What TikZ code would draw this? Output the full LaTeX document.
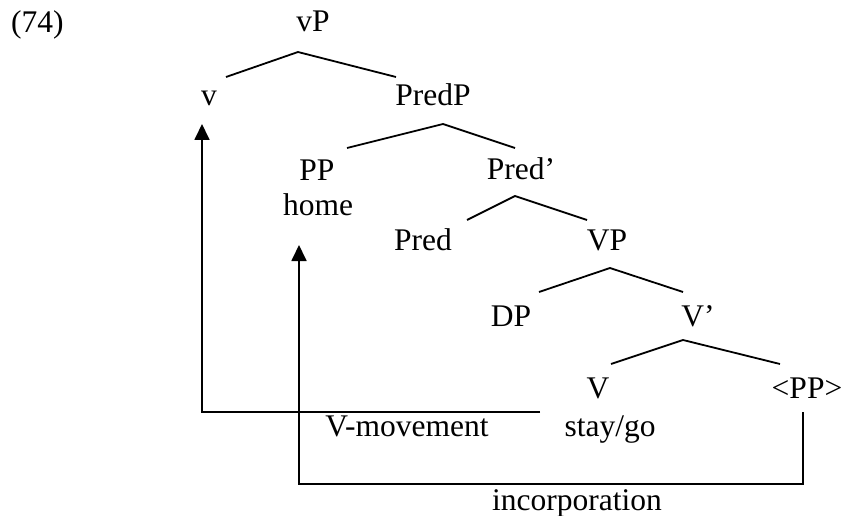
\documentclass[tikz,border=0pt]{standalone}
\usepackage{fontspec}
\setmainfont{Liberation Serif}
\usetikzlibrary{arrows.meta}
\begin{document}
\begin{tikzpicture}[x=1pt,y=-1pt,
  lbl/.style={inner sep=0pt,anchor=base,font=\fontsize{31.5}{37}\selectfont},
  branch/.style={line width=1.8pt},
  mover/.style={line width=1.8pt,-{Triangle[width=15pt,length=16pt]}}]
\useasboundingbox (0,0) rectangle (849,516);
% labels
\node[lbl,anchor=base west] (ex) at (11,33) {(74)};
\node[lbl] (vP) at (313,32) {vP};
\node[lbl] (v) at (209,106) {v};
\node[lbl] (PredP) at (433,106) {PredP};
\node[lbl] (PP) at (317,180) {PP};
\node[lbl] (home) at (318,215) {home};
\node[lbl] (Predbar) at (521,179) {Pred’};
\node[lbl] (Pred) at (423,250) {Pred};
\node[lbl] (VP) at (607,250) {VP};
\node[lbl] (DP) at (511,326) {DP};
\node[lbl] (Vbar) at (698,326) {V’};
\node[lbl] (V) at (598,398) {V};
\node[lbl] (tPP) at (807,398) {<PP>};
\node[lbl] (Vmov) at (407,436) {V-movement};
\node[lbl] (stay) at (610,436) {stay/go};
\node[lbl] (inc) at (577,510) {incorporation};
% branch points
\coordinate (a1) at (298,52); \coordinate (a1l) at (226,77); \coordinate (a1r) at (396,77);
\coordinate (a2) at (443,124); \coordinate (a2l) at (347,148); \coordinate (a2r) at (515,148);
\coordinate (a3) at (515,196); \coordinate (a3l) at (467,220); \coordinate (a3r) at (587,220);
\coordinate (a4) at (610,268); \coordinate (a4l) at (539,292); \coordinate (a4r) at (683,292);
\coordinate (a5) at (683,340); \coordinate (a5l) at (611,364); \coordinate (a5r) at (780,364);
\draw[branch] (a1l) -- (a1) -- (a1r);
\draw[branch] (a2l) -- (a2) -- (a2r);
\draw[branch] (a3l) -- (a3) -- (a3r);
\draw[branch] (a4l) -- (a4) -- (a4r);
\draw[branch] (a5l) -- (a5) -- (a5r);
% movement arrows
\coordinate (m1s) at (540,412); \coordinate (m1c) at (202,412); \coordinate (m1e) at (202,124);
\draw[mover] (m1s) -- (m1c) -- (m1e);
\coordinate (m2s) at (803,412); \coordinate (m2a) at (803,484); \coordinate (m2b) at (299,484); \coordinate (m2e) at (299,245);
\draw[mover] (m2s) -- (m2a) -- (m2b) -- (m2e);
\end{tikzpicture}
\end{document}
